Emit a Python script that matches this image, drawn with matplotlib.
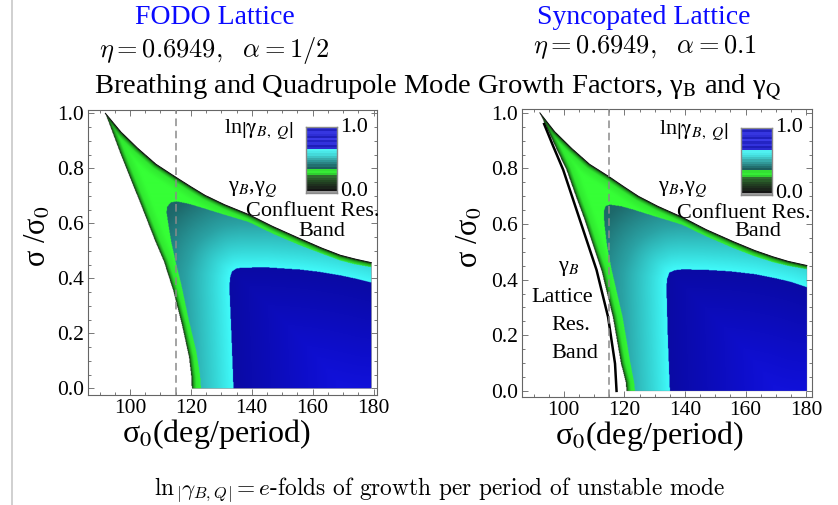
import numpy as np
import matplotlib
matplotlib.use('Agg')
import matplotlib.pyplot as plt
from matplotlib.path import Path
from matplotlib.colors import LinearSegmentedColormap, to_rgb
from matplotlib.lines import Line2D
from matplotlib.ticker import MultipleLocator, FormatStrFormatter

plt.rcParams['font.family'] = ['Liberation Serif', 'DejaVu Serif']
plt.rcParams['mathtext.fontset'] = 'stix'

W, H = 838, 505

# ---- boundaries: sigma0 (deg/period), sigma/sigma0 ----
# FODO lattice
fodo_upper_x = [91.9, 97.0, 102.6, 108.5, 115.0, 120.0, 124.6, 131.0, 139.0, 147.0, 155.9, 163.0, 169.1, 174.0, 179.3]
fodo_upper_y = [1.0, 0.932, 0.872, 0.815, 0.768, 0.733, 0.702, 0.668, 0.632, 0.588, 0.544, 0.51, 0.484, 0.47, 0.457]
fodo_left_x = [91.9, 97.1, 103.7, 108.2, 111.2, 114.2, 117.0, 119.4, 120.2, 120.3]
fodo_left_y = [1.0, 0.847, 0.665, 0.538, 0.46, 0.356, 0.235, 0.114, 0.04, 0.0]
fodo_teal_top_x = [115.2, 119.0, 123.0, 130.0, 139.0, 147.0, 155.9, 163.0, 169.1, 174.0, 179.3]
fodo_teal_top_y = [0.68, 0.672, 0.659, 0.635, 0.605, 0.562, 0.52, 0.49, 0.465, 0.451, 0.441]
fodo_teal_left_x = [115.2, 113.4, 112.2, 112.0, 112.7, 113.6, 115.2, 116.8, 119.1, 121.7, 123.0, 123.3]
fodo_teal_left_y = [0.68, 0.676, 0.66, 0.64, 0.59, 0.53, 0.45, 0.38, 0.259, 0.138, 0.05, 0.0]
fodo_blue_x = [134.0, 133.3, 132.7, 132.8, 133.5, 135.0, 137.0, 145.0, 155.9, 162.0, 169.1, 175.0, 179.3]
fodo_blue_y = [0.0, 0.2, 0.356, 0.40, 0.425, 0.436, 0.439, 0.44, 0.432, 0.424, 0.411, 0.397, 0.385]

# Syncopated lattice
sync_upper_x = [92.1, 97.0, 102.6, 108.5, 115.0, 120.0, 124.6, 131.0, 139.0, 147.0, 155.9, 163.0, 169.1, 174.0, 180.2]
sync_upper_y = [1.0, 0.932, 0.872, 0.815, 0.77, 0.733, 0.7, 0.664, 0.625, 0.58, 0.537, 0.505, 0.482, 0.466, 0.451]
sync_left_x = [92.1, 97.6, 100.9, 104.0, 106.9, 109.6, 112.4, 116.2, 118.9, 120.5, 120.7]
sync_left_y = [1.0, 0.87, 0.795, 0.70, 0.615, 0.525, 0.435, 0.266, 0.098, 0.03, 0.0]
sync_teal_top_x = [115.2, 119.0, 123.0, 130.0, 139.0, 147.0, 155.9, 163.0, 169.1, 174.0, 180.2]
sync_teal_top_y = [0.67, 0.664, 0.652, 0.628, 0.598, 0.556, 0.514, 0.484, 0.463, 0.45, 0.438]
sync_teal_left_x = [115.2, 113.8, 113.2, 113.4, 114.3, 115.8, 117.6, 119.4, 122.0, 123.2, 123.5]
sync_teal_left_y = [0.67, 0.665, 0.645, 0.6, 0.52, 0.435, 0.35, 0.266, 0.098, 0.03, 0.0]
sync_blue_x = [135.0, 134.3, 133.9, 134.0, 134.8, 136.5, 139.0, 146.0, 155.0, 163.0, 170.0, 175.0, 180.2]
sync_blue_y = [0.0, 0.2, 0.36, 0.40, 0.425, 0.434, 0.437, 0.436, 0.43, 0.42, 0.405, 0.392, 0.373]
sync_lattice_x = [93.5, 96.5, 99.8, 105.3, 110.8, 114.6, 116.9, 117.4]
sync_lattice_y = [0.96, 0.88, 0.795, 0.615, 0.435, 0.266, 0.098, 0.0]

dashed_x = 115.0
x_ticks = [100, 120, 140, 160, 180]

# colour bar stripes, bottom (0.0) to top (1.0)
cbar_colors = ['#9a9a9a', '#151515', '#1b241b', '#1e301e', '#213d21', '#244a24', '#2a5c2a',
               '#2f6e2f', '#30d030', '#36ec36', '#33e033', '#1c5e5e', '#227070', '#2a8484',
               '#309898', '#38acac', '#3ec4c4', '#44dada', '#4ae8e8', '#50f0f0', '#2a2ad0',
               '#1e1eb8', '#3232dc', '#2424c4', '#3a3ae6', '#2020bc', '#2e2ed6', '#3636e0',
               '#2222c0', '#2c2cd2']

green_cmap = LinearSegmentedColormap.from_list(
    'g', [(0, '#0a240a'), (0.05, '#135013'), (0.18, '#22a622'), (0.38, '#30e830'), (1, '#36ff36')])
teal_cmap = LinearSegmentedColormap.from_list(
    't', [(0, '#40fafa'), (0.15, '#36d8d8'), (0.4, '#2aa2a4'), (0.75, '#1e6a6c'), (1, '#185a5c')])
blue_cmap = LinearSegmentedColormap.from_list(
    'b', [(0, '#0a0aa4'), (0.5, '#0e0ecc'), (1, '#1616ee')])

fig = plt.figure(figsize=(W / 100, H / 100), dpi=100)


def px_axes(x0, y0, x1, y1):
    return fig.add_axes([x0 / W, 1 - y1 / H, (x1 - x0) / W, (y1 - y0) / H])


def label(x, y, s, **kw):
    kw.setdefault('ha', 'center')
    kw.setdefault('va', 'center')
    fig.text(x / W, 1 - y / H, s, **kw)


def dist_to_line(p, line):
    d = np.full(len(p), np.inf)
    for (x0, y0), (x1, y1) in zip(line[:-1], line[1:]):
        dx, dy = x1 - x0, y1 - y0
        L = dx * dx + dy * dy
        t = np.clip(((p[:, 0] - x0) * dx + (p[:, 1] - y0) * dy) / L, 0, 1)
        d = np.minimum(d, np.hypot(p[:, 0] - x0 - t * dx, p[:, 1] - y0 - t * dy))
    return d


def draw_panel(ax, xlim, ylim, upper, left, teal_top, teal_left, blue, lattice=None):
    ax.set_xlim(*xlim)
    ax.set_ylim(*ylim)
    x_end = upper[0][-1]

    outer_line = list(zip(left[0][::-1], left[1][::-1])) + list(zip(upper[0][1:], upper[1][1:]))
    poly_a = outer_line + [(x_end, 0.0)]
    poly_c = list(zip(teal_top[0], teal_top[1])) + [(x_end, 0.0)] + \
        list(zip(teal_left[0][::-1], teal_left[1][::-1]))
    blue_line = list(zip(blue[0], blue[1]))
    poly_d = blue_line + [(x_end, 0.0)]

    bb = ax.get_window_extent()
    nx, ny = int(bb.width * 2), int(bb.height * 2)
    gx = xlim[0] + (np.arange(nx) + 0.5) * (xlim[1] - xlim[0]) / nx
    gy = ylim[0] + (np.arange(ny) + 0.5) * (ylim[1] - ylim[0]) / ny
    GX, GY = np.meshgrid(gx, gy)
    pts = np.column_stack([GX.ravel(), GY.ravel()])
    disp = ax.transData.transform(pts)
    to_px = ax.transData.transform

    img = np.zeros((len(pts), 4))
    in_a = Path(poly_a).contains_points(pts)
    in_c = Path(poly_c).contains_points(pts)
    in_d = Path(poly_d).contains_points(pts)

    # shading: green by distance from the stability edge, teal/blue by distance from the blue edge
    d_out = dist_to_line(disp[in_a], to_px(np.array(outer_line)))
    img[in_a] = green_cmap(np.clip(d_out / 12.0, 0, 1))
    d_blue = dist_to_line(disp[in_c], to_px(np.array(blue_line)))
    img[in_c] = teal_cmap(np.clip(d_blue / 110.0, 0, 1))
    d_in = dist_to_line(disp[in_d], to_px(np.array(blue_line)))
    img[in_d] = blue_cmap(np.clip(d_in / 150.0, 0, 1))

    ax.imshow(img.reshape(ny, nx, 4), extent=(xlim[0], xlim[1], ylim[0], ylim[1]),
              origin='lower', aspect='auto', interpolation='antialiased', zorder=1)
    ax.plot(upper[0], upper[1], color='#0a0f0a', lw=0.7, zorder=2)
    if lattice is not None:
        ax.plot(lattice[0], lattice[1], color='black', lw=1.8, zorder=2)
    ax.axvline(dashed_x, color='#8a8a8a', lw=1.1, ls=(0, (5, 3)), zorder=3)

    ax.set_xlim(*xlim)
    ax.set_ylim(*ylim)
    ax.xaxis.set_major_locator(MultipleLocator(20))
    ax.xaxis.set_minor_locator(MultipleLocator(5))
    ax.yaxis.set_major_locator(MultipleLocator(0.2))
    ax.yaxis.set_minor_locator(MultipleLocator(0.05))
    ax.yaxis.set_major_formatter(FormatStrFormatter('%.1f'))
    ax.set_xticks(x_ticks)
    ax.tick_params(which='both', direction='in', top=True, right=True,
                   color='#777777', width=0.7, labelsize=15.5, pad=3)
    ax.tick_params(which='major', length=4)
    ax.tick_params(which='minor', length=2)
    for s in ax.spines.values():
        s.set_color('#666666')
        s.set_linewidth(0.8)


def colour_bar(x0, y0, x1, y1):
    cax = px_axes(x0, y0, x1, y1)
    cols = np.array([to_rgb(c) for c in cbar_colors])[:, None, :]
    cax.imshow(cols, origin='lower', aspect='auto', extent=(0, 1, 0, 1), interpolation='nearest')
    cax.set_xticks([])
    cax.set_yticks([])
    for s in cax.spines.values():
        s.set_color('#8a8a8a')
        s.set_linewidth(1.0)


ax1 = px_axes(88, 110, 377, 395)
draw_panel(ax1, (86.19, 181.15), (-0.024, 1.012),
           (fodo_upper_x, fodo_upper_y), (fodo_left_x, fodo_left_y),
           (fodo_teal_top_x, fodo_teal_top_y), (fodo_teal_left_x, fodo_teal_left_y),
           (fodo_blue_x, fodo_blue_y))
ax2 = px_axes(522, 109, 812, 397)
draw_panel(ax2, (86.2, 181.9), (-0.022, 1.014),
           (sync_upper_x, sync_upper_y), (sync_left_x, sync_left_y),
           (sync_teal_top_x, sync_teal_top_y), (sync_teal_left_x, sync_teal_left_y),
           (sync_blue_x, sync_blue_y), (sync_lattice_x, sync_lattice_y))

colour_bar(306, 127, 337, 193)
colour_bar(741, 128, 772, 195)

# slide edge
fig.add_artist(Line2D([12 / W, 12 / W], [0, 1], color='#c8c8c8', lw=1.2))

# titles
label(215, 18, 'FODO Lattice', color='#0a0aff', fontsize=20)
label(214, 50, r'$\eta = 0.6949,\ \ \alpha = 1/2$', fontsize=19, math_fontfamily='cm')
label(644, 18, 'Syncopated Lattice', color='#0a0aff', fontsize=20)
label(645, 47, r'$\eta = 0.6949,\ \ \alpha = 0.1$', fontsize=19, math_fontfamily='cm')
label(438, 88, r'Breathing and Quadrupole Mode Growth Factors, γ$_\mathrm{B}$ and γ$_\mathrm{Q}$',
      fontsize=20.5)
label(440, 490, r'$\ln\left|\gamma_{B,Q}\right| = e$-folds of growth per period of unstable mode',
      fontsize=16.8, family='cmr10', math_fontfamily='cm')

# axis labels
label(217, 442, r'σ$_{\mathit{0}}$(deg/period)', fontsize=23, va='baseline')
label(650, 444, r'σ$_{\mathit{0}}$(deg/period)', fontsize=23, va='baseline')
label(38, 236, r'σ /σ$_{\mathit{0}}$', fontsize=22, rotation=90)
label(470, 237, r'σ /σ$_{\mathit{0}}$', fontsize=22, rotation=90)

# annotations
cb_lab = r'ln$\left|\mathrm{\gamma}_{B,\ Q}\right|$'
label(259, 130, cb_lab, fontsize=16)
label(694, 131, cb_lab, fontsize=16)
label(354, 127, '1.0', fontsize=16)
label(354, 191, '0.0', fontsize=16)
label(789, 128, '1.0', fontsize=16)
label(789, 193, '0.0', fontsize=16)
label(253, 190, r'γ$_{B}$,γ$_{Q}$', fontsize=16)
label(683, 190, r'γ$_{B}$,γ$_{Q}$', fontsize=16)
label(313, 212, 'Confluent Res.', fontsize=16)
label(322, 231, 'Band', fontsize=16)
label(744, 214, 'Confluent Res.', fontsize=16)
label(758, 232, 'Band', fontsize=16)
label(569, 268, r'γ$_{B}$', fontsize=16)
label(562, 297, 'Lattice', fontsize=16)
label(571, 325, 'Res.', fontsize=16)
label(575, 353, 'Band', fontsize=16)

fig.savefig('out.png', dpi=100)
